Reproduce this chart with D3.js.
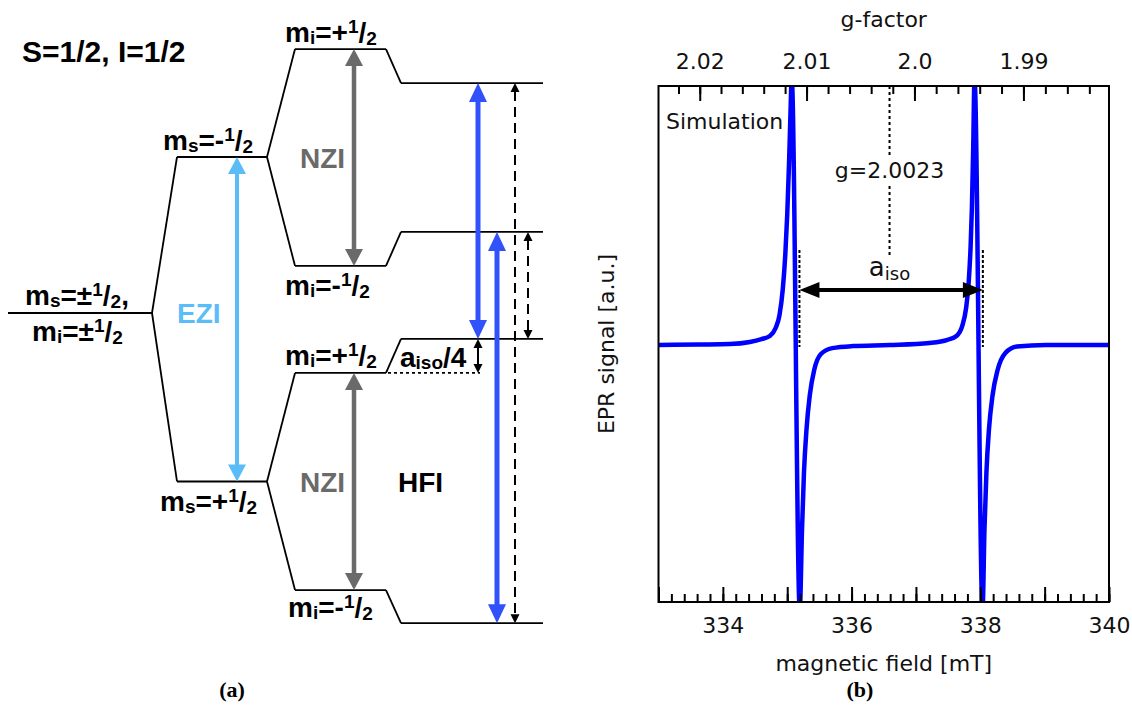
<!DOCTYPE html>
<html>
<head>
<meta charset="utf-8">
<script src="https://cdn.jsdelivr.net/npm/d3@7"></script>
<style>
  body { margin: 0; background: #fff; }
</style>
</head>
<body>
<div id="chart"></div>
<script>
// ---------------- data ----------------
// (a) energy levels, arbitrary units (up = higher energy)
const zfEnergy = [0];                              // ms=±1/2, mi=±1/2
const ezEnergy = [5.0, -5.4];                      // ms=-1/2, ms=+1/2
const nzEnergy = [8.46, 1.51, -1.92, -8.88];       // mi=+1/2, mi=-1/2 (upper), mi=+1/2, mi=-1/2 (lower)
const hfEnergy = [7.37, 2.60, -0.83, -9.94];       // same order, with hyperfine shift

// (b) simulated EPR spectrum (first derivative)
const fieldValues = [333.0, 333.64, 334.11, 334.42, 334.60, 334.73, 334.82, 334.88, 334.93, 334.97,
  335.0, 335.03, 335.05, 335.07, 335.195, 335.23, 335.26, 335.30, 335.35, 335.42,
  335.52, 335.70, 336.02, 336.59, 337.21, 337.49, 337.63, 337.72, 337.78, 337.82,
  337.85, 337.87, 337.89, 337.91, 338.035, 338.065, 338.095, 338.135, 338.19, 338.27,
  338.39, 338.57, 339.02, 340.0];
const signalValues = [-0.004, -0.002, 0, 0.008, 0.019, 0.031, 0.062, 0.112, 0.209, 0.345,
  0.5, 0.713, 0.888, 1.03, -1.03, -0.72, -0.50, -0.33, -0.2, -0.1,
  -0.04, -0.016, -0.008, -0.004, 0.004, 0.016, 0.031, 0.07, 0.14, 0.24,
  0.38, 0.53, 0.76, 1.03, -1.03, -0.72, -0.5, -0.33, -0.2, -0.1,
  -0.035, -0.01, -0.004, -0.004];
const fieldLabels = [334, 336, 338, 340];
const gLabels = [2.02, 2.01, 2.0, 1.99];
const gCentre = 2.0023;
const gCentreField = 336.59;         // mT, field where g=2.0023
const lineCentres = [335.19, 338.04]; // aiso markers

const W = 1132, H = 723;
const svg = d3.select("#chart").append("svg")
  .attr("width", W).attr("height", H)
  .style("display", "block");

// ================= (a) level diagram =================
const A = svg.append("g");
const yE = d3.scaleLinear().domain([0, 10]).range([313, 1]);

const SANS_B = "'Liberation Sans', Arial, Helvetica, sans-serif";
const BLACK = "#000", GREY = "#6a6a6a", LIGHTBLUE = "#5bbdf8", BLUE = "#3151fb";

// columns of levels
const colZF = [8, 152], colEZ = [177, 267], colNZ = [295, 386], colHF = [401, 543];

function levels(col, energies) {
  A.selectAll(null).data(energies).enter().append("line")
    .attr("x1", col[0]).attr("x2", col[1])
    .attr("y1", d => yE(d)).attr("y2", d => yE(d))
    .attr("stroke", BLACK).attr("stroke-width", 1.8);
}
function connect(colL, eL, colR, eR) {
  A.append("line")
    .attr("x1", colL[1]).attr("y1", yE(eL))
    .attr("x2", colR[0]).attr("y2", yE(eR))
    .attr("stroke", BLACK).attr("stroke-width", 1.8);
}
levels(colZF, zfEnergy);
levels(colEZ, ezEnergy);
levels(colNZ, nzEnergy);
levels(colHF, hfEnergy);
ezEnergy.forEach(e => connect(colZF, zfEnergy[0], colEZ, e));
connect(colEZ, ezEnergy[0], colNZ, nzEnergy[0]);
connect(colEZ, ezEnergy[0], colNZ, nzEnergy[1]);
connect(colEZ, ezEnergy[1], colNZ, nzEnergy[2]);
connect(colEZ, ezEnergy[1], colNZ, nzEnergy[3]);
nzEnergy.forEach((e, i) => connect(colNZ, e, colHF, hfEnergy[i]));

// vertical arrows
function vArrow(x, eTop, eBot, o) {
  const yT = yE(eTop), yB = yE(eBot);
  const y1 = o.top ? yT + o.headL - 1 : yT;
  const y2 = o.bottom ? yB - o.headL + 1 : yB;
  A.append("line")
    .attr("x1", x).attr("x2", x).attr("y1", y1).attr("y2", y2)
    .attr("stroke", o.color).attr("stroke-width", o.width)
    .attr("stroke-dasharray", o.dash || null);
  if (o.top) A.append("path")
    .attr("d", `M${x},${yT}L${x - o.headW / 2},${yT + o.headL}L${x + o.headW / 2},${yT + o.headL}Z`)
    .attr("fill", o.color);
  if (o.bottom) A.append("path")
    .attr("d", `M${x},${yB}L${x - o.headW / 2},${yB - o.headL}L${x + o.headW / 2},${yB - o.headL}Z`)
    .attr("fill", o.color);
}
const bigHead = { headW: 18, headL: 17, top: true, bottom: true };
vArrow(237, ezEnergy[0], ezEnergy[1], { ...bigHead, color: LIGHTBLUE, width: 4 });
vArrow(354, nzEnergy[0], nzEnergy[1], { ...bigHead, color: GREY, width: 4.5 });
vArrow(354, nzEnergy[2], nzEnergy[3], { ...bigHead, color: GREY, width: 4.5 });
vArrow(478, hfEnergy[0], hfEnergy[2], { ...bigHead, headL: 19, color: BLUE, width: 5 });
vArrow(497, hfEnergy[1], hfEnergy[3], { ...bigHead, headL: 19, color: BLUE, width: 5 });
vArrow(515, hfEnergy[0], hfEnergy[3], { headW: 9, headL: 9, top: true, bottom: true, color: BLACK, width: 2, dash: "10,6" });
vArrow(528, hfEnergy[1], hfEnergy[2], { headW: 9, headL: 9, top: true, bottom: true, color: BLACK, width: 2, dash: "10,6" });
vArrow(478, hfEnergy[2], nzEnergy[2], { headW: 9, headL: 9, top: true, bottom: true, color: BLACK, width: 2 });

// dotted reference for aiso/4
A.append("line")
  .attr("x1", colNZ[1] + 2).attr("x2", 480)
  .attr("y1", yE(nzEnergy[2])).attr("y2", yE(nzEnergy[2]))
  .attr("stroke", BLACK).attr("stroke-width", 1.6).attr("stroke-dasharray", "3,3");

// labels with sub/superscripts
function label(x, y, parts, color, size) {
  size = size || 28;
  const t = A.append("text").attr("x", x).attr("y", y)
    .attr("font-family", SANS_B).attr("font-weight", "bold")
    .attr("font-size", size).attr("fill", color || BLACK);
  let shift = 0;
  parts.forEach(p => {
    const d = p.dy || 0;
    t.append("tspan").attr("dy", d - shift)
      .attr("font-size", p.size || size).text(p.t);
    shift = d;
  });
}
const SUB = 19;
function spin(letter, sign) {
  return [
    { t: "m" }, { t: letter, size: SUB, dy: 2 }, { t: "=" + sign },
    { t: "1", size: SUB, dy: -9 }, { t: "/" }, { t: "2", size: SUB, dy: 3 }
  ];
}
label(22, 62, [{ t: "S=1/2, I=1/2" }], BLACK, 30);
label(163, 150, spin("s", "-"));
label(25, 305, spin("s", "±").concat([{ t: ",", dy: 0 }]));
label(32, 341, spin("i", "±"));
label(160, 511, spin("s", "+"));
label(285, 42, spin("i", "+"));
label(285, 295, spin("i", "-"));
label(285, 365, spin("i", "+"));
label(288, 617, spin("i", "-"));
label(177, 323, [{ t: "EZI" }], LIGHTBLUE);
label(300, 168, [{ t: "NZI" }], GREY);
label(300, 492, [{ t: "NZI" }], GREY);
label(398, 492, [{ t: "HFI" }]);
label(400, 367, [{ t: "a" }, { t: "iso", size: SUB, dy: 2 }, { t: "/4", dy: 0 }]);

// ================= (b) EPR spectrum =================
const B = svg.append("g");
const SANS = "'DejaVu Sans', Verdana, sans-serif";
const FS = 22;
const plotL = 658.5, plotR = 1109, plotT = 86, plotB = 602;

const x = d3.scaleLinear().domain([333, 340]).range([plotL, plotR]);
const y = d3.scaleLinear().domain([-1, 1]).range([plotB, plotT]);

// g-factor scale on top: B = h*nu/(muB*g)
const hvOverMuB = gCentre * gCentreField;
function gScale(g) { return x(hvOverMuB / g); }
gScale.range = () => x.range();
gScale.copy = () => gScale;
gScale.domain = () => [hvOverMuB / 333, hvOverMuB / 340];

B.append("clipPath").attr("id", "plotClip")
  .append("rect").attr("x", plotL).attr("y", plotT)
  .attr("width", plotR - plotL).attr("height", plotB - plotT);

const spectrum = fieldValues.map((f, i) => ({ f: f, s: signalValues[i] }));
B.append("path")
  .datum(spectrum)
  .attr("clip-path", "url(#plotClip)")
  .attr("fill", "none")
  .attr("stroke", "#0000ff")
  .attr("stroke-width", 4.5)
  .attr("stroke-linejoin", "round")
  .attr("d", d3.line()
    .curve(d3.curveMonotoneX)
    .x(d => x(d.f))
    .y(d => y(d.s)));

// bottom axis: minor / major ticks pointing inward
function styleAxis(sel) {
  sel.select(".domain").remove();
  sel.selectAll("line").attr("stroke", BLACK).attr("stroke-width", 2);
  sel.selectAll("text").attr("font-family", SANS).attr("font-size", FS).attr("fill", "#111");
}
B.append("g").attr("transform", `translate(0,${plotB})`)
  .call(d3.axisBottom(x).tickValues(d3.range(333, 340.01, 0.2)).tickSize(-8).tickFormat(""))
  .call(styleAxis);
B.append("g").attr("transform", `translate(0,${plotB})`)
  .call(d3.axisBottom(x).tickValues(d3.range(333, 340.01, 1)).tickSize(-15).tickFormat(""))
  .call(styleAxis);
B.append("g").attr("transform", `translate(0,${plotB})`)
  .call(d3.axisBottom(x).tickValues(fieldLabels).tickSize(0).tickPadding(15).tickFormat(d3.format("d")))
  .call(styleAxis);

// top axis in g-factor
B.append("g").attr("transform", `translate(0,${plotT})`)
  .call(d3.axisTop(gScale).tickValues(d3.range(1.984, 2.0225, 0.002)).tickSize(-8).tickFormat(""))
  .call(styleAxis);
B.append("g").attr("transform", `translate(0,${plotT})`)
  .call(d3.axisTop(gScale).tickValues(gLabels).tickSize(-15).tickPadding(17)
    .tickFormat(d => d === 2 ? "2.0" : d3.format(".2f")(d)))
  .call(styleAxis);

// frame
B.append("rect")
  .attr("x", plotL).attr("y", plotT)
  .attr("width", plotR - plotL).attr("height", plotB - plotT)
  .attr("fill", "none").attr("stroke", BLACK).attr("stroke-width", 2);

// axis titles
B.append("text").attr("x", x(336.5)).attr("y", 27)
  .attr("text-anchor", "middle").attr("font-family", SANS).attr("font-size", FS).attr("fill", "#111")
  .text("g-factor");
B.append("text").attr("x", x(336.5)).attr("y", 671)
  .attr("text-anchor", "middle").attr("font-family", SANS).attr("font-size", FS).attr("fill", "#111")
  .text("magnetic field [mT]");
B.append("text")
  .attr("transform", `translate(614,${(plotT + plotB) / 2}) rotate(-90)`)
  .attr("text-anchor", "middle").attr("font-family", SANS).attr("font-size", FS).attr("fill", "#111")
  .text("EPR signal [a.u.]");
B.append("text").attr("x", 666).attr("y", 129)
  .attr("font-family", SANS).attr("font-size", FS).attr("fill", "#111")
  .text("Simulation");

// g = 2.0023 marker
const xg = x(gCentreField);
[[plotT, 157], [186, 258]].forEach(seg => {
  B.append("line").attr("x1", xg).attr("x2", xg).attr("y1", seg[0]).attr("y2", seg[1])
    .attr("stroke", BLACK).attr("stroke-width", 2).attr("stroke-dasharray", "3,3");
});
B.append("text").attr("x", xg).attr("y", 178)
  .attr("text-anchor", "middle").attr("font-family", SANS).attr("font-size", FS).attr("fill", "#111")
  .text("g=2.0023");

// aiso arrow
const xa = x(lineCentres[0]), xb = x(lineCentres[1]), ya = 290;
lineCentres.forEach(c => {
  B.append("line").attr("x1", x(c)).attr("x2", x(c)).attr("y1", 250).attr("y2", 347)
    .attr("stroke", BLACK).attr("stroke-width", 2).attr("stroke-dasharray", "3,2");
});
B.append("line").attr("x1", xa + 18).attr("x2", xb - 18).attr("y1", ya).attr("y2", ya)
  .attr("stroke", BLACK).attr("stroke-width", 4);
B.append("path").attr("d", `M${xa},${ya}L${xa + 20},${ya - 8}L${xa + 20},${ya + 8}Z`).attr("fill", BLACK);
B.append("path").attr("d", `M${xb},${ya}L${xb - 20},${ya - 8}L${xb - 20},${ya + 8}Z`).attr("fill", BLACK);
const aiso = B.append("text").attr("x", xg).attr("y", 276)
  .attr("text-anchor", "middle").attr("font-family", SANS).attr("font-size", 26).attr("fill", "#111");
aiso.append("tspan").text("a");
aiso.append("tspan").attr("font-size", 18).attr("dy", 4).text("iso");

// panel captions
svg.selectAll(null).data([["(a)", 232], ["(b)", 860]]).enter().append("text")
  .attr("x", d => d[1]).attr("y", 697)
  .attr("text-anchor", "middle")
  .attr("font-family", "'Liberation Serif', 'DejaVu Serif', serif")
  .attr("font-weight", "bold").attr("font-size", 22)
  .text(d => d[0]);
</script>
</body>
</html>
